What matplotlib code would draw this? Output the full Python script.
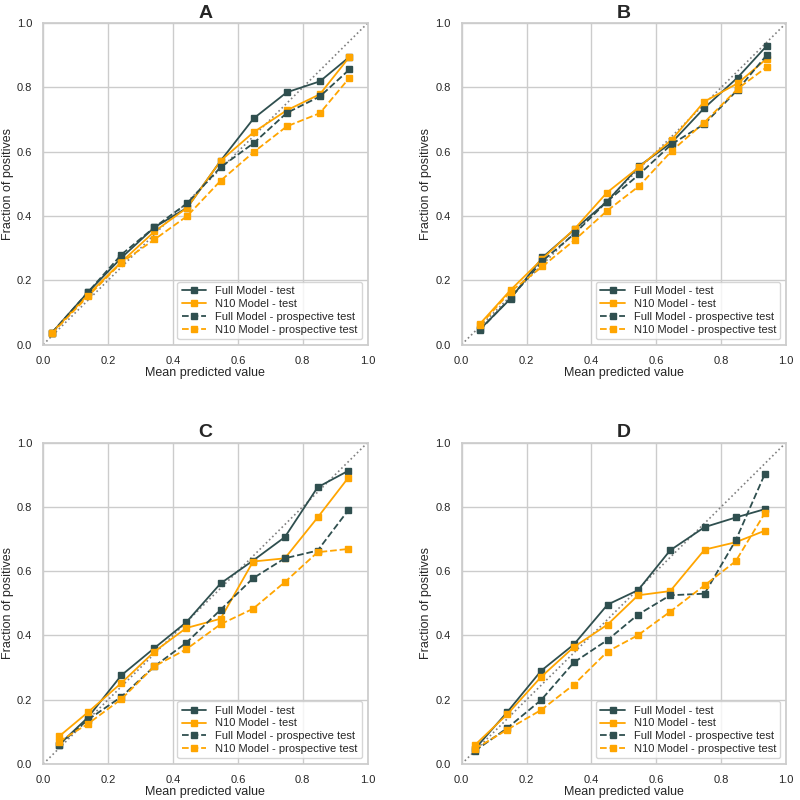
import matplotlib
matplotlib.use("Agg")
import matplotlib.pyplot as plt
import seaborn as sns

sns.set_theme(style="whitegrid")
plt.rcParams['font.family'] = ['Liberation Sans', 'DejaVu Sans']

panel_titles = ["A", "B", "C", "D"]
series_labels = ["Full Model - test", "N10 Model - test",
                 "Full Model - prospective test", "N10 Model - prospective test"]

# mean predicted value (bin centres) per panel
x_a = [0.027, 0.138, 0.241, 0.343, 0.444, 0.547, 0.649, 0.751, 0.853, 0.944]
x_b = [0.056, 0.151, 0.249, 0.349, 0.448, 0.548, 0.648, 0.748, 0.851, 0.940]
x_c = [0.049, 0.138, 0.241, 0.343, 0.441, 0.547, 0.647, 0.745, 0.846, 0.940]
x_d = [0.041, 0.141, 0.245, 0.346, 0.450, 0.544, 0.643, 0.749, 0.845, 0.935]

# fraction of positives
full_test_a = [0.037, 0.163, 0.270, 0.365, 0.426, 0.572, 0.704, 0.785, 0.819, 0.895]
n10_test_a = [0.037, 0.155, 0.257, 0.352, 0.426, 0.572, 0.661, 0.729, 0.779, 0.895]
full_pro_a = [0.037, 0.163, 0.280, 0.365, 0.440, 0.552, 0.627, 0.721, 0.772, 0.856]
n10_pro_a = [0.035, 0.150, 0.255, 0.327, 0.400, 0.510, 0.599, 0.679, 0.720, 0.830]

full_test_b = [0.047, 0.143, 0.271, 0.359, 0.445, 0.556, 0.629, 0.736, 0.831, 0.929]
n10_test_b = [0.064, 0.170, 0.267, 0.361, 0.473, 0.553, 0.638, 0.756, 0.813, 0.889]
full_pro_b = [0.045, 0.145, 0.260, 0.346, 0.445, 0.530, 0.624, 0.686, 0.793, 0.900]
n10_pro_b = [0.060, 0.165, 0.243, 0.326, 0.416, 0.494, 0.603, 0.691, 0.796, 0.863]

full_test_c = [0.060, 0.145, 0.276, 0.361, 0.441, 0.562, 0.633, 0.706, 0.861, 0.912]
n10_test_c = [0.086, 0.161, 0.252, 0.350, 0.423, 0.452, 0.630, 0.640, 0.767, 0.890]
full_pro_c = [0.060, 0.138, 0.209, 0.304, 0.377, 0.480, 0.578, 0.640, 0.664, 0.789]
n10_pro_c = [0.070, 0.125, 0.202, 0.304, 0.357, 0.435, 0.483, 0.566, 0.659, 0.669]

full_test_d = [0.047, 0.162, 0.290, 0.372, 0.496, 0.541, 0.665, 0.737, 0.767, 0.793]
n10_test_d = [0.059, 0.155, 0.271, 0.364, 0.434, 0.525, 0.538, 0.667, 0.690, 0.726]
full_pro_d = [0.041, 0.112, 0.199, 0.316, 0.386, 0.465, 0.525, 0.530, 0.696, 0.903]
n10_pro_d = [0.047, 0.107, 0.168, 0.247, 0.350, 0.401, 0.474, 0.556, 0.631, 0.781]

panels = [
    (x_a, [full_test_a, n10_test_a, full_pro_a, n10_pro_a]),
    (x_b, [full_test_b, n10_test_b, full_pro_b, n10_pro_b]),
    (x_c, [full_test_c, n10_test_c, full_pro_c, n10_pro_c]),
    (x_d, [full_test_d, n10_test_d, full_pro_d, n10_pro_d]),
]

dark = '#2F4F4F'
orange = '#FFA500'
styles = [(dark, '-'), (orange, '-'), (dark, '--'), (orange, '--')]

fig, axes = plt.subplots(2, 2, figsize=(8, 8), dpi=100)
fig.subplots_adjust(left=0.054, right=0.9825, top=0.971, bottom=0.045,
                    wspace=0.29, hspace=0.305)

for ax, title, (xs, ys) in zip(axes.flat, panel_titles, panels):
    ax.plot([0, 1], [0, 1], ':', color='gray', linewidth=1.2)
    for (color, ls), label, y in zip(styles, series_labels, ys):
        ax.plot(xs, y, marker='s', markersize=5, linestyle=ls, color=color,
                linewidth=1.3, label=label)
    ax.set_xlim(0, 1)
    ax.set_ylim(0, 1)
    ax.set_xticks([0, 0.2, 0.4, 0.6, 0.8, 1.0])
    ax.set_yticks([0, 0.2, 0.4, 0.6, 0.8, 1.0])
    ax.tick_params(labelsize=8, pad=2)
    ax.set_xlabel("Mean predicted value", fontsize=9, labelpad=1)
    ax.set_ylabel("Fraction of positives", fontsize=9, labelpad=2)
    ax.set_title(title, fontsize=14, fontweight='bold', pad=4)
    ax.legend(loc='lower right', fontsize=8, handlelength=2.2,
              borderpad=0.4, labelspacing=0.25, framealpha=0.8)

plt.savefig("out.png", dpi=100)
